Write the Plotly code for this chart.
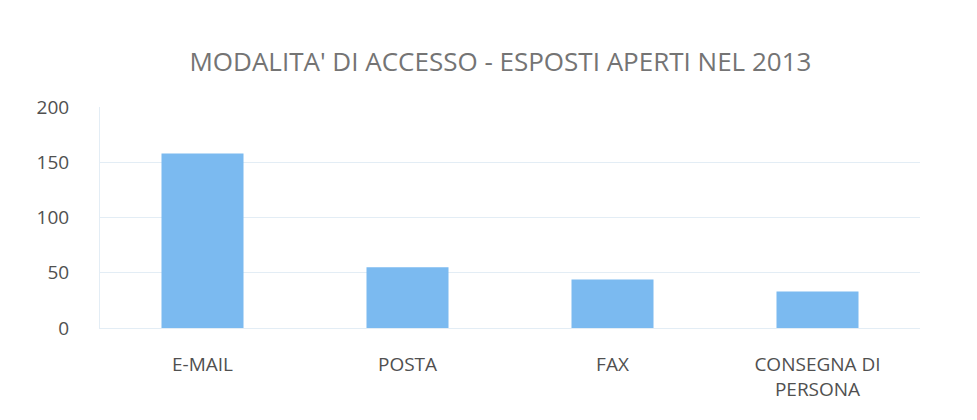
import plotly.graph_objects as go

# Dati
categorie = ["E-MAIL", "POSTA", "FAX", "CONSEGNA DI<br>PERSONA"]
esposti = [158, 55, 44, 33]
tick_y = [0, 50, 100, 150, 200]

fig = go.Figure()

fig.add_trace(go.Bar(
    x=categorie,
    y=esposti,
    marker_color="#7bbaf0",
    marker_line_width=0,
))

fig.update_layout(
    width=977,
    height=420,
    title=dict(
        text="MODALITA' DI ACCESSO - ESPOSTI APERTI NEL 2013",
        x=0.504, xanchor="center",
        y=0.871, yanchor="middle",
        font=dict(family="Open Sans", size=26, color="#747474"),
    ),
    margin=dict(l=92, r=65, t=99, b=100),
    plot_bgcolor="white",
    paper_bgcolor="white",
    bargap=0.6,
    showlegend=False,
    font=dict(family="Open Sans", size=19, color="#505050"),
)

fig.update_xaxes(
    showgrid=False,
    showline=True,
    linecolor="#e3edf5",
    ticks="",
    ticklabelstandoff=19,
)

fig.update_yaxes(
    range=[0, 200],
    tickvals=tick_y,
    showgrid=True,
    gridcolor="#e3edf5",
    zeroline=False,
    showline=True,
    linecolor="#e3edf5",
    ticks="",
    ticklabelstandoff=26,
)

fig.write_html("out.html")
